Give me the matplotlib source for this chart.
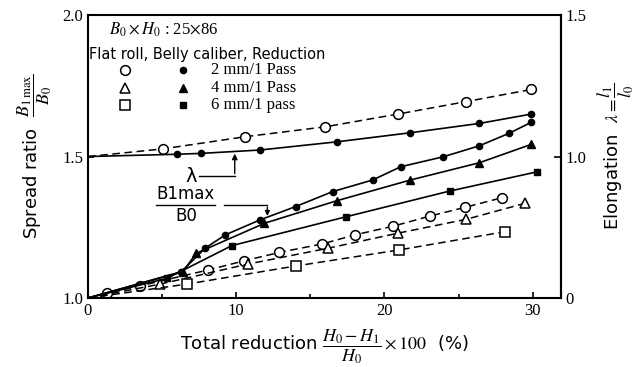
import numpy as np
import matplotlib.pyplot as plt

plt.rcParams['mathtext.fontset'] = 'stix'

# spread ratio B1max/B0 vs total reduction (%)
# flat roll (open markers, dashed)
flat_2mm_x = [0, 1.26, 3.5, 8.1, 10.5, 12.9, 15.8, 18.0, 20.6, 23.1, 25.4, 27.9]
flat_2mm_y = [1.0, 1.017, 1.043, 1.099, 1.131, 1.161, 1.191, 1.223, 1.254, 1.290, 1.320, 1.354]
flat_4mm_x = [0, 4.86, 10.8, 16.2, 20.9, 25.5, 29.5]
flat_4mm_y = [1.0, 1.049, 1.120, 1.176, 1.229, 1.278, 1.335]
flat_6mm_x = [0, 6.65, 14.0, 21.0, 28.1]
flat_6mm_y = [1.0, 1.049, 1.113, 1.170, 1.234]
# belly caliber (filled markers, solid)
belly_2mm_x = [0, 6.3, 7.9, 9.26, 11.6, 14.0, 16.5, 19.2, 21.1, 23.96, 26.4, 28.4, 29.9]
belly_2mm_y = [1.0, 1.093, 1.176, 1.223, 1.276, 1.323, 1.376, 1.417, 1.464, 1.499, 1.538, 1.582, 1.621]
belly_4mm_x = [0, 6.4, 7.3, 11.9, 16.8, 21.75, 26.4, 29.9]
belly_4mm_y = [1.0, 1.093, 1.158, 1.264, 1.344, 1.417, 1.478, 1.543]
belly_6mm_x = [0, 5.35, 9.7, 17.4, 24.4, 30.3]
belly_6mm_y = [1.0, 1.070, 1.185, 1.287, 1.378, 1.446]

# elongation lambda (2 mm / pass)
lam_flat_x = [0, 5.06, 10.6, 16.0, 20.9, 25.5, 29.9]
lam_flat = [1.0, 1.027, 1.070, 1.105, 1.150, 1.194, 1.237]
lam_belly_x = [0, 5.98, 7.6, 11.6, 16.8, 21.75, 26.4, 29.9]
lam_belly = [1.0, 1.008, 1.011, 1.023, 1.052, 1.084, 1.117, 1.150]


def spread_to_lam(s):
    s = np.asarray(s, dtype=float)
    return np.where(s <= 1.5, (s - 1.0) * 2.0, s - 0.5)


def lam_to_spread(l):
    l = np.asarray(l, dtype=float)
    return np.where(l <= 1.0, 1.0 + 0.5 * l, l + 0.5)


fig = plt.figure(figsize=(6.44, 3.67), dpi=100)
ax = fig.add_axes([0.1366, 0.188, 0.7344, 0.771])

dash = (0, (5, 3))
open_kw = dict(color='black', lw=1.1, linestyle=dash, mfc='white', mec='black', mew=1.1, markevery=slice(1, None))
fill_kw = dict(color='black', lw=1.2, linestyle='-', mfc='black', mec='black', markevery=slice(1, None))

ax.plot(flat_2mm_x, flat_2mm_y, marker='o', ms=7, **open_kw)
ax.plot(flat_4mm_x, flat_4mm_y, marker='^', ms=7, **open_kw)
ax.plot(flat_6mm_x, flat_6mm_y, marker='s', ms=6.5, **open_kw)
ax.plot(belly_2mm_x, belly_2mm_y, marker='o', ms=4.5, **fill_kw)
ax.plot(belly_4mm_x, belly_4mm_y, marker='^', ms=6, **fill_kw)
ax.plot(belly_6mm_x, belly_6mm_y, marker='s', ms=5, **fill_kw)

ax.plot(lam_flat_x, lam_to_spread(lam_flat), marker='o', ms=7, **open_kw)
ax.plot(lam_belly_x, lam_to_spread(lam_belly), marker='o', ms=4.5, **fill_kw)

ax.set_xlim(0, 31.9)
ax.set_ylim(1.0, 2.0)
ax.set_xticks([0, 10, 20, 30])
ax.set_xticks([5, 15, 25], minor=True)
ax.set_yticks([1.0, 1.5, 2.0])
ax.set_yticklabels(['1.0', '1.5', '2.0'])
ax.tick_params(direction='in', length=4, width=1.2, labelsize=12)
ax.tick_params(which='minor', direction='in', length=3, width=1.2)
for lab in ax.get_xticklabels() + ax.get_yticklabels():
    lab.set_family('Liberation Serif')
for sp in ax.spines.values():
    sp.set_linewidth(1.5)

sec = ax.secondary_yaxis('right', functions=(spread_to_lam, lam_to_spread))
sec.set_yticks([0, 1.0, 1.5])
sec.set_yticklabels(['0', '1.0', '1.5'])
sec.tick_params(direction='in', length=5, width=1.2, labelsize=12)
for lab in sec.get_yticklabels():
    lab.set_family('Liberation Serif')
sec.spines['right'].set_linewidth(1.5)

# axis labels
ax.set_ylabel(r'Spread ratio  $\dfrac{B_{1\,\mathrm{max}}}{B_0}$', fontsize=13,
              family='DejaVu Sans', labelpad=6)
ax.set_xlabel(r'Total reduction $\dfrac{H_0-H_1}{H_0}\times100$  (%)', fontsize=13,
              family='DejaVu Sans', labelpad=6)
sec.set_ylabel(r'Elongation  $\lambda=\dfrac{l_1}{l_0}$', fontsize=13,
               family='DejaVu Sans', labelpad=6)

# legend block
ax.text(1.4, 1.93, r'$B_0\times H_0$ : 25$\times$86', fontsize=12, family='Liberation Serif')
ax.text(0.1, 1.845, 'Flat roll, Belly caliber, Reduction', fontsize=10.5, family='DejaVu Sans')
rows = [('o', '2 mm/1 Pass', 1.805, 7, 4.5), ('^', '4 mm/1 Pass', 1.742, 7, 6),
        ('s', '6 mm/1 pass', 1.683, 6.5, 5)]
for m, txt, yy, so, sf in rows:
    ax.plot([2.5], [yy], marker=m, ms=so, mfc='white', mec='black', mew=1.1, ls='none')
    ax.plot([6.4], [yy], marker=m, ms=sf, color='black', ls='none')
    ax.text(8.3, yy, txt, fontsize=12, family='Liberation Serif', va='center')

# lambda annotation
ax.text(6.6, 1.428, 'λ', fontsize=14, family='DejaVu Sans', va='center')
ax.plot([7.5, 9.9], [1.432, 1.432], color='black', lw=1)
ax.annotate('', xy=(9.9, 1.52), xytext=(9.9, 1.43),
            arrowprops=dict(arrowstyle='-|>', color='black', lw=1, mutation_scale=8))

# B1max/B0 annotation
ax.text(6.6, 1.335, 'B1max', fontsize=12, family='DejaVu Sans', ha='center', va='bottom')
ax.plot([4.6, 8.6], [1.329, 1.329], color='black', lw=1)
ax.text(6.6, 1.322, 'B0', fontsize=12, family='DejaVu Sans', ha='center', va='top')
ax.plot([9.2, 12.1], [1.329, 1.329], color='black', lw=1)
ax.annotate('', xy=(12.1, 1.28), xytext=(12.1, 1.331),
            arrowprops=dict(arrowstyle='-|>', color='black', lw=1, mutation_scale=7))

fig.savefig('out.png', dpi=100)
